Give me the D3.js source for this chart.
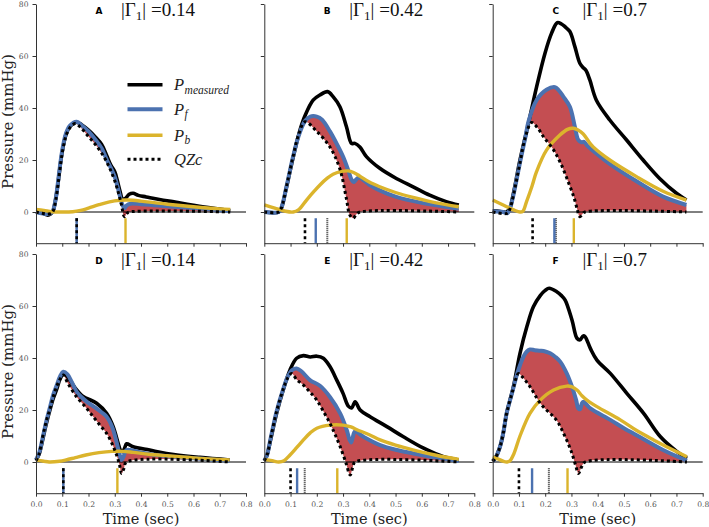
<!DOCTYPE html>
<html><head><meta charset="utf-8">
<script src="https://cdn.jsdelivr.net/npm/d3@7"></script>
<style>body{margin:0;background:#fff}</style>
</head><body><svg id="c" width="709" height="527"></svg>
<script>
// ---------- data (time in sec, pressure in mmHg) ----------
const letters = ["A","B","C","D","E","F"];
const gammas = ["0.14","0.42","0.7","0.14","0.42","0.7"];
const xTicks = [0,0.1,0.2,0.3,0.4,0.5,0.6,0.7,0.8];
const yTicks = [0,20,40,60,80];

const measuredA = [[0,0],[0.02,-0.2],[0.045,-1.2],[0.055,-0.8],[0.065,0.5],[0.075,5],[0.085,12],[0.095,20],[0.105,26],[0.115,30],[0.13,33],[0.155,34.5],[0.175,33.5],[0.2,31.5],[0.225,29],[0.25,26],[0.27,21.5],[0.285,18],[0.3,15.5],[0.31,12],[0.32,8],[0.33,5],[0.34,5.2],[0.355,6.8],[0.37,7.2],[0.39,6.4],[0.42,5.8],[0.47,4.8],[0.53,3.8],[0.6,2.6],[0.67,1.5],[0.74,0.6]];
const pfA = [[0,0],[0.045,-0.8],[0.06,-0.3],[0.065,0.5],[0.075,5],[0.085,12.5],[0.095,20.5],[0.105,26.5],[0.115,30.5],[0.13,33.3],[0.155,34.7],[0.175,33.2],[0.2,31],[0.225,28],[0.25,24.5],[0.27,20],[0.285,17],[0.3,13.5],[0.31,10],[0.32,6],[0.33,2.5],[0.338,1.5],[0.345,2.5],[0.36,3.2],[0.4,3],[0.45,2.6],[0.5,2.2],[0.6,1.5],[0.74,0.4]];
const pbA = [[0,1],[0.03,0.6],[0.06,0.1],[0.09,0],[0.14,0.1],[0.17,0.6],[0.2,1.5],[0.24,2.8],[0.28,3.9],[0.32,4.5],[0.35,4.6],[0.4,4.2],[0.45,3.6],[0.5,3],[0.6,2],[0.7,1.2],[0.74,1]];
const qzcA = [[0,0],[0.045,-0.8],[0.06,-0.3],[0.065,0.3],[0.075,4.5],[0.085,11.5],[0.095,19.5],[0.105,25.5],[0.115,29.5],[0.13,32.5],[0.15,34],[0.17,32.5],[0.2,29],[0.23,25.5],[0.26,21],[0.28,17],[0.3,12],[0.315,7],[0.325,3],[0.337,-1.8],[0.347,-0.5],[0.355,0],[0.74,0]];

const measuredB = [[0,0],[0.055,0],[0.065,1.5],[0.085,9.7],[0.11,21],[0.136,31.5],[0.155,37],[0.186,43],[0.212,45],[0.241,46.3],[0.262,44.4],[0.288,40.5],[0.313,32.8],[0.332,26.4],[0.345,26.4],[0.364,25],[0.389,21.3],[0.44,16.8],[0.503,12.9],[0.567,9.7],[0.63,6.5],[0.693,4],[0.741,2.7]];
const pfB = [[0,0],[0.055,0],[0.065,1.5],[0.085,10],[0.11,21.5],[0.13,29],[0.155,35],[0.175,36.7],[0.2,36.7],[0.22,35.5],[0.25,31],[0.275,26.4],[0.3,21.3],[0.32,16],[0.332,12.5],[0.34,11.5],[0.35,12.5],[0.36,13.3],[0.4,10.5],[0.44,8.3],[0.5,5.9],[0.6,3.5],[0.741,1.2]];
const pbB = [[0,2.7],[0.04,1.5],[0.08,0.3],[0.11,0],[0.13,0.8],[0.161,4.6],[0.19,8],[0.212,10.4],[0.24,13],[0.262,14.5],[0.29,15.5],[0.32,15.8],[0.34,15.2],[0.364,13.8],[0.4,11.5],[0.44,9.7],[0.5,7.5],[0.567,5.6],[0.65,3.6],[0.741,2]];
const qzcB = [[0,0],[0.055,0],[0.065,1.5],[0.085,10],[0.11,21.5],[0.13,29.5],[0.155,34.7],[0.2,31],[0.25,25],[0.288,16.5],[0.313,5],[0.325,-1],[0.338,-2.4],[0.35,-1],[0.364,0],[0.741,0]];

const measuredC = [[0,0.5],[0.03,0.2],[0.053,0],[0.065,1.5],[0.079,7.2],[0.104,20],[0.136,34],[0.167,48],[0.199,61],[0.224,68.7],[0.246,72.8],[0.262,72.3],[0.275,71.3],[0.294,69.4],[0.313,63.6],[0.332,57.2],[0.345,55.5],[0.355,54.5],[0.37,50.8],[0.395,43],[0.446,35.4],[0.51,27.7],[0.573,20],[0.636,12.9],[0.7,7.2],[0.738,4.6]];
const pfC = [[0,0.3],[0.04,0],[0.055,-0.5],[0.065,1],[0.079,6.5],[0.104,19],[0.125,29],[0.136,34.7],[0.167,43],[0.205,47],[0.237,48],[0.25,47],[0.269,44.4],[0.294,40.5],[0.313,32.8],[0.326,27.7],[0.338,26.8],[0.348,27],[0.36,25.5],[0.383,23.5],[0.446,18.5],[0.548,11.8],[0.649,5.9],[0.738,2.7]];
const pbC = [[0,4.6],[0.04,2.7],[0.08,0.8],[0.104,0],[0.115,0.3],[0.129,4],[0.15,10],[0.167,15.5],[0.205,23.8],[0.256,29.6],[0.285,31.8],[0.307,32.2],[0.325,31.5],[0.345,30],[0.37,26.5],[0.383,25],[0.446,20],[0.548,13.6],[0.649,8],[0.738,4.6]];
const qzcC = [[0,0],[0.055,-0.5],[0.065,1],[0.079,6.5],[0.104,19],[0.125,29],[0.148,34.4],[0.17,32.5],[0.193,29],[0.231,24],[0.26,18.5],[0.29,11],[0.31,5.5],[0.322,1],[0.332,-1.8],[0.342,-0.8],[0.351,0],[0.738,0]];

const measuredD = [[0,0.8],[0.012,3],[0.028,9.7],[0.04,15],[0.053,20],[0.066,24.5],[0.079,28],[0.092,32],[0.104,33.8],[0.115,33.3],[0.129,31.5],[0.155,27.7],[0.175,25.5],[0.193,24.5],[0.231,22.6],[0.269,18.7],[0.294,13.6],[0.313,7.2],[0.322,4.5],[0.33,4],[0.338,5.5],[0.345,7],[0.37,5.9],[0.433,4.6],[0.497,3.3],[0.624,1.8],[0.738,0.8]];
const pfD = [[0,0.8],[0.012,3.5],[0.028,10.5],[0.04,16],[0.053,21],[0.066,26],[0.079,29.5],[0.092,33],[0.104,34.7],[0.12,33.7],[0.135,31],[0.155,27],[0.175,24.8],[0.193,23.2],[0.231,20.5],[0.269,17.4],[0.29,13.5],[0.305,8.5],[0.318,3],[0.326,0.8],[0.334,2.2],[0.345,4.6],[0.4,3.6],[0.45,2.8],[0.55,1.8],[0.65,1.1],[0.738,0.5]];
const pbD = [[0,0.8],[0.03,0.3],[0.05,0],[0.09,0.3],[0.115,0.8],[0.15,1.7],[0.19,2.7],[0.24,3.6],[0.29,4.1],[0.33,4.1],[0.37,3.7],[0.43,3],[0.5,2.4],[0.6,1.6],[0.738,0.8]];
const qzcD = [[0,0.5],[0.01,2.5],[0.025,9.5],[0.04,16],[0.055,21],[0.07,26.5],[0.085,30.5],[0.104,33.5],[0.12,30.5],[0.155,25],[0.19,21],[0.218,17.4],[0.245,14],[0.269,11],[0.29,7],[0.307,2.7],[0.318,-1],[0.326,-4.4],[0.335,-2.5],[0.345,0],[0.738,0]];

const measuredE = [[0,0.5],[0.01,2.5],[0.025,9],[0.047,18.7],[0.072,27.7],[0.098,35.4],[0.123,39.9],[0.149,40.9],[0.175,40.4],[0.2,40.7],[0.225,39.9],[0.25,36.7],[0.276,31.5],[0.3,26.4],[0.32,21.5],[0.333,20.8],[0.346,23.2],[0.365,20],[0.403,17.4],[0.467,13.6],[0.53,9.7],[0.607,5.3],[0.683,2],[0.741,0.8]];
const pfE = [[0,0.5],[0.01,2.5],[0.025,9.5],[0.047,19.5],[0.072,28],[0.09,33],[0.105,35.3],[0.123,36],[0.14,35],[0.174,31.5],[0.212,29.3],[0.25,25],[0.289,18.7],[0.314,12.3],[0.325,8.5],[0.331,7.5],[0.337,9.5],[0.345,11.7],[0.378,9.7],[0.441,6.5],[0.5,4.7],[0.569,3.3],[0.65,1.8],[0.741,0.4]];
const pbE = [[0,1],[0.03,0.5],[0.055,0],[0.075,0.5],[0.098,2.7],[0.123,5.5],[0.149,8.5],[0.175,11.2],[0.2,13],[0.25,14.2],[0.3,14.2],[0.33,13.5],[0.351,12.5],[0.4,10.5],[0.441,8.5],[0.5,6.5],[0.569,4.6],[0.65,2.7],[0.741,1]];
const qzcE = [[0,0.5],[0.01,2.5],[0.025,9.5],[0.047,19.5],[0.072,28],[0.09,32.5],[0.104,34],[0.125,31.5],[0.149,29.6],[0.175,26.8],[0.2,23.8],[0.225,19.5],[0.25,14.9],[0.27,10.5],[0.289,5.9],[0.31,0],[0.327,-5],[0.337,-2],[0.346,0],[0.741,0]];

const measuredF = [[0,0.3],[0.01,1.5],[0.028,5.9],[0.04,11],[0.053,18.7],[0.079,29],[0.104,41.8],[0.13,52],[0.155,59.7],[0.181,64],[0.2,66],[0.215,66.8],[0.244,65.5],[0.262,64],[0.276,62.3],[0.302,54.6],[0.321,47.6],[0.333,47],[0.345,48.5],[0.352,48.2],[0.372,43.7],[0.397,39.2],[0.448,34.1],[0.511,26.4],[0.575,18.7],[0.639,9.7],[0.702,4],[0.74,1.4]];
const pfF = [[0,0.3],[0.01,1.5],[0.028,5.9],[0.04,11],[0.053,18.7],[0.075,27],[0.092,33.5],[0.105,37.5],[0.117,40.5],[0.13,42.5],[0.142,43.3],[0.16,43],[0.181,42.8],[0.2,42.5],[0.219,41.8],[0.24,40.3],[0.257,38.6],[0.282,34.1],[0.302,29],[0.318,23.8],[0.326,20.6],[0.333,20.3],[0.34,22.6],[0.346,23.2],[0.372,20.6],[0.448,16.2],[0.5,13],[0.55,10.2],[0.651,4.5],[0.74,0.5]];
const pbF = [[0,2],[0.02,1.2],[0.04,0.3],[0.055,0],[0.066,0.5],[0.08,3],[0.104,10],[0.142,18.7],[0.181,23.8],[0.232,27.7],[0.282,29.2],[0.3,29],[0.321,27.7],[0.34,25.5],[0.359,23.8],[0.397,21.3],[0.486,16.2],[0.55,12],[0.613,8.5],[0.68,5],[0.74,2]];
const qzcF = [[0,0.3],[0.01,1.5],[0.028,5.9],[0.04,11],[0.053,18.7],[0.075,27],[0.09,32.5],[0.098,34],[0.115,32.5],[0.142,29],[0.181,22.6],[0.21,19.5],[0.232,17.4],[0.25,15],[0.27,11],[0.29,6.5],[0.302,3.3],[0.315,-1],[0.327,-4.4],[0.338,-2],[0.352,0],[0.74,0]];

// event markers (sec) per panel A..F
const markerQZc  = [0.155,0.155,0.152,0.104,0.100,0.100];
const markerPf   = [0.155,0.196,0.235,0.104,0.125,0.150];
const markerGray = [0.155,0.240,0.241,0.104,0.154,0.214];
const markerPb   = [0.341,0.314,0.309,0.310,0.278,0.285];

const measured = [measuredA,measuredB,measuredC,measuredD,measuredE,measuredF];
const pf = [pfA,pfB,pfC,pfD,pfE,pfF];
const pb = [pbA,pbB,pbC,pbD,pbE,pbF];
const qzc = [qzcA,qzcB,qzcC,qzcD,qzcE,qzcF];

// ---------- drawing ----------
const BLACK="#000", BLUE="#4c72b0", YEL="#dbb42c", RED="#c44e52";
const svg = d3.select("#c");
const colX=[36,264.3,492.7], rowY=[4,254], W=210, H=239.2;

letters.forEach((L,i)=>{
  const col=i%3, row=Math.floor(i/3);
  const x0=colX[col], y0=rowY[row];
  const x=d3.scaleLinear().domain([0,0.8]).range([x0,x0+W]);
  const y=d3.scaleLinear().domain([-12,80]).range([y0+H,y0]);
  const g=svg.append("g");
  const line=d3.line().x(d=>x(d[0])).y(d=>y(d[1])).curve(d3.curveCatmullRom.alpha(0.5));

  // fill between Pf and QZc
  const fwd=line(pf[i]), back=line(qzc[i].slice().reverse());
  g.append("path").attr("d",fwd+"L"+back.slice(1)+"Z").attr("fill",RED).attr("stroke","none");

  // zero line
  g.append("line").attr("x1",x(0)).attr("x2",x(0.8)).attr("y1",y(0)).attr("y2",y(0))
    .attr("stroke","#000").attr("stroke-width",1);

  g.append("path").attr("d",line(measured[i])).attr("fill","none").attr("stroke",BLACK).attr("stroke-width",3.6).attr("stroke-linejoin","round");
  g.append("path").attr("d",line(pf[i])).attr("fill","none").attr("stroke",BLUE).attr("stroke-width",4).attr("stroke-linejoin","round");
  g.append("path").attr("d",line(pb[i])).attr("fill","none").attr("stroke",YEL).attr("stroke-width",3.4).attr("stroke-linejoin","round");
  g.append("path").attr("d",line(qzc[i])).attr("fill","none").attr("stroke",BLACK).attr("stroke-width",3).attr("stroke-dasharray","3,3");

  // markers
  const mTop=y(-2.4), mBot=y(-12);
  const mk=(t,color,w,dash)=>{
    const l=g.append("line").attr("x1",x(t)).attr("x2",x(t)).attr("y1",mTop).attr("y2",mBot)
      .attr("stroke",color).attr("stroke-width",w);
    if(dash) l.attr("stroke-dasharray",dash);
  };
  mk(markerGray[i],"#333",2,"1,1");
  mk(markerPf[i],BLUE,2.4,null);
  mk(markerQZc[i],BLACK,2.6,"3,3");
  mk(markerPb[i],YEL,2.4,null);

  // axes
  const yAxis=d3.axisLeft(y).tickValues(yTicks).tickSize(3.5).tickSizeOuter(0).tickPadding(4)
    .tickFormat(col===0?d3.format("d"):()=>"");
  const xAxis=d3.axisBottom(x).tickValues(xTicks).tickSize(3.5).tickSizeOuter(0).tickPadding(5)
    .tickFormat(row===1?d3.format(".1f"):()=>"");
  const ya=g.append("g").attr("transform",`translate(${x0},0)`).call(yAxis);
  const xa=g.append("g").attr("transform",`translate(0,${y0+H})`).call(xAxis);
  [ya,xa].forEach(a=>{
    a.select(".domain").attr("stroke","#333").attr("stroke-width",1);
    a.selectAll(".tick line").attr("stroke","#333");
    a.selectAll(".tick text").attr("fill","#555").attr("font-family","DejaVu Serif").attr("font-size",7.6);
  });

  // titles
  g.append("text").attr("x",x0+63).attr("y",y0+9.5).attr("text-anchor","middle")
    .attr("font-family","DejaVu Sans").attr("font-weight","bold").attr("font-size",9).text(L);
  const tt=g.append("text").attr("x",x0+122).attr("y",y0+11.5).attr("text-anchor","middle")
    .attr("font-family","Liberation Serif").attr("font-size",19).attr("fill","#111");
  tt.append("tspan").text("|Γ");
  tt.append("tspan").attr("font-size",13).attr("dy",4).text("1");
  tt.append("tspan").attr("dy",-4).text("|");
  tt.append("tspan").attr("dx",5).text("=" + gammas[i]);

  if(col===0){
    g.append("text").attr("transform",`translate(13,${y0+117.5}) rotate(-90)`).attr("text-anchor","middle")
      .attr("font-family","DejaVu Serif").attr("font-size",15).attr("fill","#222").text("Pressure (mmHg)");
  }
  if(row===1){
    g.append("text").attr("x",x0+105).attr("y",523.5).attr("text-anchor","middle")
      .attr("font-family","DejaVu Serif").attr("font-size",14.5).attr("fill","#222").text("Time (sec)");
  }

  // legend in first panel
  if(i===0){
    const items=[["P","measured",BLACK,null,3.6],["P","f",BLUE,null,4],["P","b",YEL,null,3.4],["QZc","",BLACK,"3,3",3]];
    const ly=[84.7,109.3,135.3,159.3];
    items.forEach((it,k)=>{
      const l=g.append("line").attr("x1",127.5).attr("x2",162.5).attr("y1",ly[k]).attr("y2",ly[k])
        .attr("stroke",it[2]).attr("stroke-width",it[4]);
      if(it[3]) l.attr("stroke-dasharray",it[3]);
      const t=g.append("text").attr("x",174).attr("y",ly[k]+5.5).attr("font-family","Liberation Serif")
        .attr("font-style","italic").attr("font-size",16.5).attr("fill","#222");
      t.append("tspan").text(it[0]);
      if(it[1]) t.append("tspan").attr("font-size",11.5).attr("dy",3.5).attr("dx",0.5).text(it[1]);
    });
  }
});
</script></body></html>
